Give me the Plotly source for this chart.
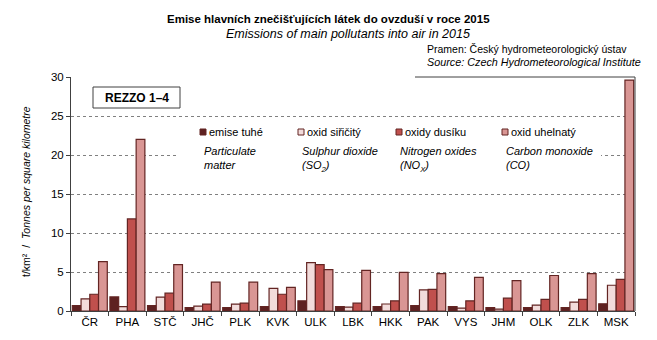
import plotly.graph_objects as go

regions = ["ČR", "PHA", "STČ", "JHČ", "PLK", "KVK", "ULK", "LBK", "HKK", "PAK",
           "VYS", "JHM", "OLK", "ZLK", "MSK"]
particulate = [0.68, 1.8, 0.68, 0.42, 0.42, 0.55, 1.3, 0.55, 0.55, 0.68, 0.55, 0.42, 0.42, 0.42, 0.93]
sulphur = [1.56, 0.55, 1.77, 0.63, 0.89, 2.9, 6.2, 0.5, 0.9, 2.7, 0.38, 0.25, 0.76, 1.14, 3.3]
nitrogen = [2.15, 11.8, 2.28, 0.89, 1.01, 2.15, 5.95, 1.0, 1.3, 2.78, 1.3, 1.65, 1.5, 1.5, 4.05]
carbon = [6.33, 22.0, 5.95, 3.7, 3.7, 3.04, 5.3, 5.2, 4.95, 4.8, 4.3, 3.9, 4.55, 4.8, 29.6]

series_cz = ["emise tuhé", "oxid siřičitý", "oxidy dusíku", "oxid uhelnatý"]
series_en = ["Particulate<br>matter", "Sulphur dioxide<br>(SO<sub>2</sub>)",
             "Nitrogen oxides<br>(NO<sub>X</sub>)", "Carbon monoxide<br>(CO)"]
colors = ["#5E2121", "#F2DCDB", "#C0504D", "#D99694"]
outline = "#632523"

W, H = 657, 340
L, R, T, B = 71, 22, 77, 29

fig = go.Figure()
for name, vals, col in zip(series_cz, [particulate, sulphur, nitrogen, carbon], colors):
    fig.add_trace(go.Bar(x=regions, y=vals, name=name, marker=dict(color=col, line=dict(color=outline, width=1.2))))

def px(x):
    return (x - L) / (W - L - R)

def py(y):
    return (H - B - y) / (H - T - B)

shapes = []
# white patch hiding part of gridline 20
shapes.append(dict(type="rect", xref="paper", yref="paper", x0=px(176), x1=px(601), y0=py(172), y1=py(140),
                   fillcolor="white", line=dict(width=0), layer="above"))
# top solid border segment
shapes.append(dict(type="line", xref="paper", yref="paper", x0=px(415), x1=1, y0=1, y1=1,
                   line=dict(color="#404040", width=1)))
# right border
shapes.append(dict(type="line", xref="paper", yref="paper", x0=1, x1=1, y0=0, y1=1,
                   line=dict(color="#404040", width=1)))
# REZZO box
shapes.append(dict(type="rect", xref="paper", yref="paper", x0=px(93), x1=px(180), y0=py(108), y1=py(87),
                   fillcolor="white", line=dict(color="#404040", width=1)))

annotations = []
annotations.append(dict(text="<b>REZZO 1–4</b>", xref="paper", yref="paper", x=px(136.5), y=py(97.5),
                        showarrow=False, font=dict(size=12, color="#000"), xanchor="center", yanchor="middle"))

leg_x = [200, 298, 396, 502]
for i in range(4):
    sx = leg_x[i]
    shapes.append(dict(type="rect", xref="paper", yref="paper", x0=px(sx), x1=px(sx + 6), y0=py(135), y1=py(129),
                       fillcolor=colors[i], line=dict(color=outline, width=1)))
    annotations.append(dict(text=series_cz[i], xref="paper", yref="paper", x=px(sx + 7), y=py(132),
                            showarrow=False, xanchor="left", yanchor="middle", font=dict(size=11, color="#000")))
    annotations.append(dict(text="<i>" + series_en[i] + "</i>", xref="paper", yref="paper", x=px(sx + 2), y=py(143),
                            showarrow=False, xanchor="left", yanchor="top", align="left",
                            font=dict(size=11, color="#000")))

# titles
annotations.append(dict(text="<b>Emise hlavních znečišťujících látek do ovzduší v roce 2015</b>",
                        xref="paper", yref="paper", x=px(328), y=py(19), showarrow=False,
                        xanchor="center", yanchor="middle", font=dict(size=11.5, color="#000")))
annotations.append(dict(text="<i>Emissions of main pollutants into air in 2015</i>",
                        xref="paper", yref="paper", x=px(348), y=py(34), showarrow=False,
                        xanchor="center", yanchor="middle", font=dict(size=12.5, color="#000")))
annotations.append(dict(text="Pramen: Český hydrometeorologický ústav",
                        xref="paper", yref="paper", x=px(425), y=py(49), showarrow=False,
                        xanchor="left", yanchor="middle", font=dict(size=10.5, color="#000")))
annotations.append(dict(text="<i>Source: Czech Hydrometeorological Institute</i>",
                        xref="paper", yref="paper", x=px(425), y=py(62), showarrow=False,
                        xanchor="left", yanchor="middle", font=dict(size=10.8, color="#000")))
annotations.append(dict(text="t/km²  /  <i>Tonnes per square kilometre</i>",
                        xref="paper", yref="paper", x=px(26), y=py(192), showarrow=False, textangle=-90,
                        xanchor="center", yanchor="middle", font=dict(size=10.5, color="#000")))

fig.update_layout(
    width=W, height=H,
    margin=dict(l=L, r=R, t=T, b=B, pad=0),
    paper_bgcolor="white", plot_bgcolor="white",
    barmode="group", bargap=0.07, bargroupgap=0,
    showlegend=False,
    font=dict(family="Liberation Sans, Arial, sans-serif", size=11, color="#000"),
    shapes=shapes, annotations=annotations,
    xaxis=dict(type="category", tickson="boundaries", ticks="outside", ticklen=4, tickcolor="#404040",
               showline=True, linecolor="#404040", linewidth=1, showgrid=False,
               tickfont=dict(size=11.5, color="#000")),
    yaxis=dict(range=[0, 30], dtick=5, ticks="outside", ticklen=4, tickcolor="#404040",
               showline=True, linecolor="#404040", linewidth=1,
               showgrid=True, gridcolor="#808080", griddash="dot", gridwidth=1,
               zeroline=False, tickfont=dict(size=11.5, color="#000")),
)

fig.write_html("out.html")
